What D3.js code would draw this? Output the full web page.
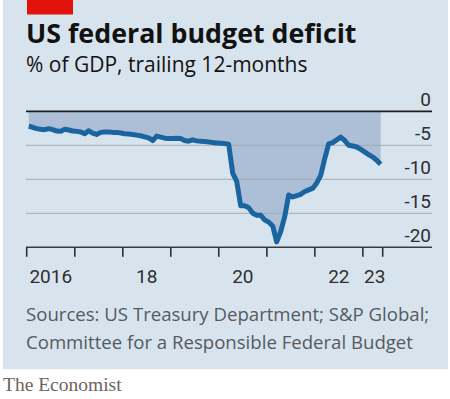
<!DOCTYPE html>
<html>
<head>
<meta charset="utf-8">
<script src="https://cdn.jsdelivr.net/npm/d3@7"></script>
<style>
  html, body { margin: 0; padding: 0; background: #ffffff; }
  svg { display: block; }
</style>
</head>
<body>
<div id="chart"></div>
<script>
// ---- Data ----
const startMonth = "2016-01";
const deficitValues = [
  -2.2, -2.35, -2.55, -2.65, -2.7, -2.55, -2.7, -2.9, -2.95, -2.65, -2.75, -2.9,
  -2.95, -3.05, -3.3, -2.85, -3.2, -3.4, -3.1, -3.05, -3.05, -3.1, -3.1, -3.2,
  -3.3, -3.35, -3.4, -3.5, -3.6, -3.75, -3.9, -4.3, -3.65, -3.8, -3.95, -4.0,
  -4.0, -3.95, -4.0, -4.3, -4.4, -4.2, -4.35, -4.4, -4.45, -4.5, -4.6, -4.65,
  -4.7, -4.75, -4.85, -9.1, -10.3, -13.9, -13.9, -14.2, -15.0, -15.3, -15.3, -16.0,
  -16.3, -16.9, -19.2, -17.7, -15.5, -12.3, -12.6, -12.4, -12.2, -11.8, -11.55, -11.3,
  -10.5, -9.4, -7.0, -4.8, -4.6, -4.2, -3.8, -4.3, -5.0, -5.1, -5.25, -5.6,
  -6.0, -6.4, -6.7, -7.2, -7.8
];
const yTicks = [0, -5, -10, -15, -20];
const yTickLabels = ["0", "-5", "-10", "-15", "-20"];
const xTickYears = [2016, 2017, 2018, 2019, 2020, 2021, 2022, 2023];
const xLabels = [
  { year: 2016, text: "2016" },
  { year: 2018, text: "18" },
  { year: 2020, text: "20" },
  { year: 2022, text: "22" },
  { year: 2023, text: "23" }
];
const title = "US federal budget deficit";
const subtitle = "% of GDP, trailing 12-months";
const sources = ["Sources: US Treasury Department; S&P Global;",
                 "Committee for a Responsible Federal Budget"];
const brand = "The Economist";

// ---- Build series (mid-month points) ----
const parseMonth = d3.timeParse("%Y-%m");
const start = parseMonth(startMonth);
const data = deficitValues.map((v, i) => {
  const m = d3.timeMonth.offset(start, i);
  const next = d3.timeMonth.offset(start, i + 1);
  return { date: new Date((+m + +next) / 2), value: v };
});

const W = 450, H = 399;
const svg = d3.select("#chart").append("svg").attr("width", W).attr("height", H);

// panel
svg.append("rect").attr("x", 3).attr("y", 0).attr("width", 445).attr("height", 369).attr("fill", "#d8e4ed");
svg.append("rect").attr("x", 27).attr("y", 0).attr("width", 46).attr("height", 14.5).attr("fill", "#e3120b");

const font = "Roboto, 'Open Sans', sans-serif";
const font2 = "'Open Sans', Roboto, sans-serif";
svg.append("text").attr("x", 26).attr("y", 43).attr("font-family", font2).attr("font-weight", 700)
  .attr("font-size", 26.8).attr("fill", "#121212").text(title);
svg.append("text").attr("x", 26).attr("y", 72).attr("font-family", font2).attr("font-weight", 400)
  .attr("font-size", 21).attr("fill", "#121212").text(subtitle);

// scales
const x = d3.scaleTime()
  .domain([new Date(2016, 0, 1), new Date(2023, 5, 1)])
  .range([26.7, 382.7]);
const y = d3.scaleLinear().domain([-20, 0]).range([247.3, 111.3]);
const gridX0 = 26, gridX1 = 432;

// area
const area = d3.area().x(d => x(d.date)).y0(y(0)).y1(d => y(d.value));
svg.append("path").datum(data).attr("d", area).attr("fill", "#adbfd7");

// gridlines
svg.selectAll("line.grid").data(yTicks.filter(t => t !== 0 && t !== -20)).enter()
  .append("line").attr("class", "grid")
  .attr("x1", gridX0).attr("x2", gridX1)
  .attr("y1", d => y(d)).attr("y2", d => y(d))
  .attr("stroke", "#a3acb3").attr("stroke-width", 1);

// y labels
svg.selectAll("text.ylab").data(yTicks).enter().append("text").attr("class", "ylab")
  .attr("x", 431).attr("y", d => y(d) - 5.5)
  .attr("text-anchor", "end").attr("font-family", font).attr("font-size", 19)
  .attr("fill", "#2e2e2e").text((d, i) => yTickLabels[i]);

// baseline at -20 and ticks
svg.append("line").attr("x1", gridX0).attr("x2", gridX1).attr("y1", y(-20)).attr("y2", y(-20))
  .attr("stroke", "#3a3a3a").attr("stroke-width", 1.4);
const tickDates = xTickYears.map(yr => new Date(yr, 0, 1)).concat([x.domain()[1]]);
svg.selectAll("line.xtick").data(tickDates).enter().append("line").attr("class", "xtick")
  .attr("x1", d => x(d)).attr("x2", d => x(d))
  .attr("y1", y(-20)).attr("y2", y(-20) + 9.5)
  .attr("stroke", "#2e2e2e").attr("stroke-width", 1.6);

svg.selectAll("text.xlab").data(xLabels).enter().append("text").attr("class", "xlab")
  .attr("x", d => {
    const a = new Date(d.year, 0, 1);
    const b = d.year === 2023 ? x.domain()[1] : new Date(d.year + 1, 0, 1);
    return (x(a) + x(b)) / 2 + (d.year === 2023 ? 2 : 0);
  })
  .attr("y", 283).attr("text-anchor", "middle").attr("font-family", font).attr("font-size", 19)
  .attr("fill", "#2e2e2e").text(d => d.text);

// zero line
svg.append("line").attr("x1", gridX0).attr("x2", gridX1).attr("y1", y(0)).attr("y2", y(0))
  .attr("stroke", "#1e1e1e").attr("stroke-width", 1.8);

// line
const line = d3.line().x(d => x(d.date)).y(d => y(d.value));
svg.append("path").datum(data).attr("d", line).attr("fill", "none")
  .attr("stroke", "#1a64a0").attr("stroke-width", 5)
  .attr("stroke-linejoin", "round").attr("stroke-linecap", "butt");

// sources
svg.selectAll("text.src").data(sources).enter().append("text").attr("class", "src")
  .attr("x", 26).attr("y", (d, i) => 320.5 + i * 28)
  .attr("font-family", font2).attr("font-size", 18.6).attr("fill", "#555a5e").text(d => d);

svg.append("text").attr("x", 3).attr("y", 391).attr("font-family", "'Liberation Serif', 'DejaVu Serif', serif")
  .attr("font-size", 19.5).attr("fill", "#6e6461").text(brand);
</script>
</body>
</html>
